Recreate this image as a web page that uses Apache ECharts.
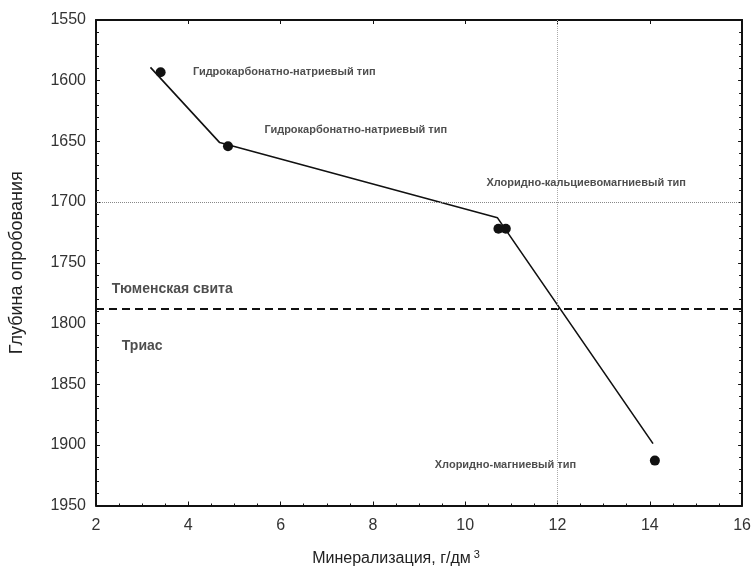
<!DOCTYPE html>
<html><head><meta charset="utf-8">
<script src="https://cdn.jsdelivr.net/npm/echarts@6/dist/echarts.min.js"></script>
<style>html,body{margin:0;padding:0;background:#fff;overflow:hidden}#c{width:754px;height:572px}</style>
</head><body><div id="c"></div>
<script>
// Trend line (mineralization g/dm3, depth m)
const lineX = [3.18, 4.68, 10.70, 14.07];
const lineY = [1589, 1651, 1713, 1899];
// Sample points
const pointX = [3.40, 4.86, 10.72, 10.88, 14.11];
const pointY = [1593, 1654, 1722, 1722, 1913];
// Boundary between formations
const boundaryDepth = 1788;
const gridDepth = 1700;
const gridMin = 12;
// Annotations
const annoText = ['Гидрокарбонатно-натриевый тип', 'Гидрокарбонатно-натриевый тип', 'Хлоридно-кальциевомагниевый тип', 'Хлоридно-магниевый тип'];
const annoX = [4.10, 5.65, 10.46, 9.34];
const annoY = [1593, 1641, 1684, 1917];
const layerText = ['Тюменская свита', 'Триас'];
const layerX = [2.34, 2.56];
const layerY = [1772, 1818.5];

const F = 'Liberation Sans, Arial, sans-serif';
const chart = echarts.init(document.getElementById('c'));
const axisLine = {show: true, lineStyle: {color: '#111', width: 2}};
chart.setOption({
  animation: false,
  grid: {left: 95, right: 2, top: 20, bottom: 65},
  xAxis: [{
    type: 'value', min: 2, max: 16, interval: 2,
    axisLine, axisTick: {inside: true, length: 4, lineStyle: {color: '#111'}},
    minorTick: {show: true, splitNumber: 4, length: 2, lineStyle: {color: '#111'}},
    splitLine: {show: false},
    axisLabel: {color: '#333', fontSize: 16, fontFamily: F, margin: 12},
    name: '{a|Минерализация, г/дм}{s|3}', nameLocation: 'middle', nameGap: 44,
    nameTextStyle: {padding: [0, 46, 0, 0], rich: {a: {fontSize: 16, fontFamily: F, color: '#222'}, s: {fontSize: 11, fontFamily: F, color: '#222', verticalAlign: 'top', padding: [0,0,8,3]}}}
  }, {
    type: 'value', position: 'top', min: 2, max: 16, interval: 2,
    axisLine, axisTick: {inside: true, length: 4, lineStyle: {color: '#111'}},
    axisLabel: {show: false}, splitLine: {show: false}
  }],
  yAxis: [{
    type: 'value', inverse: true, min: 1550, max: 1950, interval: 50,
    axisLine, axisTick: {inside: true, length: 4, lineStyle: {color: '#111'}},
    minorTick: {show: true, splitNumber: 5, length: 3, lineStyle: {color: '#111'}},
    splitLine: {show: false},
    axisLabel: {color: '#333', fontSize: 16, fontFamily: F, margin: 10, formatter: v => String(v)},
    name: 'Глубина опробования', nameLocation: 'middle', nameGap: 70,
    nameTextStyle: {fontSize: 18, fontFamily: F, color: '#222'}
  }, {
    type: 'value', position: 'right', inverse: true, min: 1550, max: 1950, interval: 50,
    axisLine, axisTick: {inside: true, length: 4, lineStyle: {color: '#111'}},
    minorTick: {show: true, splitNumber: 5, length: 3, lineStyle: {color: '#111'}},
    axisLabel: {show: false}, splitLine: {show: false}
  }],
  series: [{
    type: 'line', data: lineX.map((x, i) => [x, lineY[i]]),
    symbol: 'none', lineStyle: {color: '#111', width: 1.6},
    markLine: {
      silent: true, symbol: 'none', label: {show: false},
      data: [
        {yAxis: boundaryDepth, lineStyle: {type: [8, 5], color: '#111', width: 2}},
        {yAxis: gridDepth, lineStyle: {type: 'dotted', color: '#888', width: 1}},
        {xAxis: gridMin, lineStyle: {type: 'dotted', color: '#aaa', width: 1}}
      ]
    }
  }, {
    type: 'scatter', data: pointX.map((x, i) => [x, pointY[i]]),
    symbol: 'circle', symbolSize: 10, itemStyle: {color: '#111', opacity: 1}
  }, {
    type: 'scatter', data: annoX.map((x, i) => [x, annoY[i], annoText[i]]),
    symbolSize: 0, silent: true,
    label: {show: true, position: 'right', distance: 0, formatter: p => p.data[2],
      fontSize: 11, fontWeight: 'bold', fontFamily: F, color: '#222'}
  }, {
    type: 'scatter', data: layerX.map((x, i) => [x, layerY[i], layerText[i]]),
    symbolSize: 0, silent: true,
    label: {show: true, position: 'right', distance: 0, formatter: p => p.data[2],
      fontSize: 14, fontWeight: 'bold', fontFamily: F, color: '#222'}
  }]
});
</script></body></html>
